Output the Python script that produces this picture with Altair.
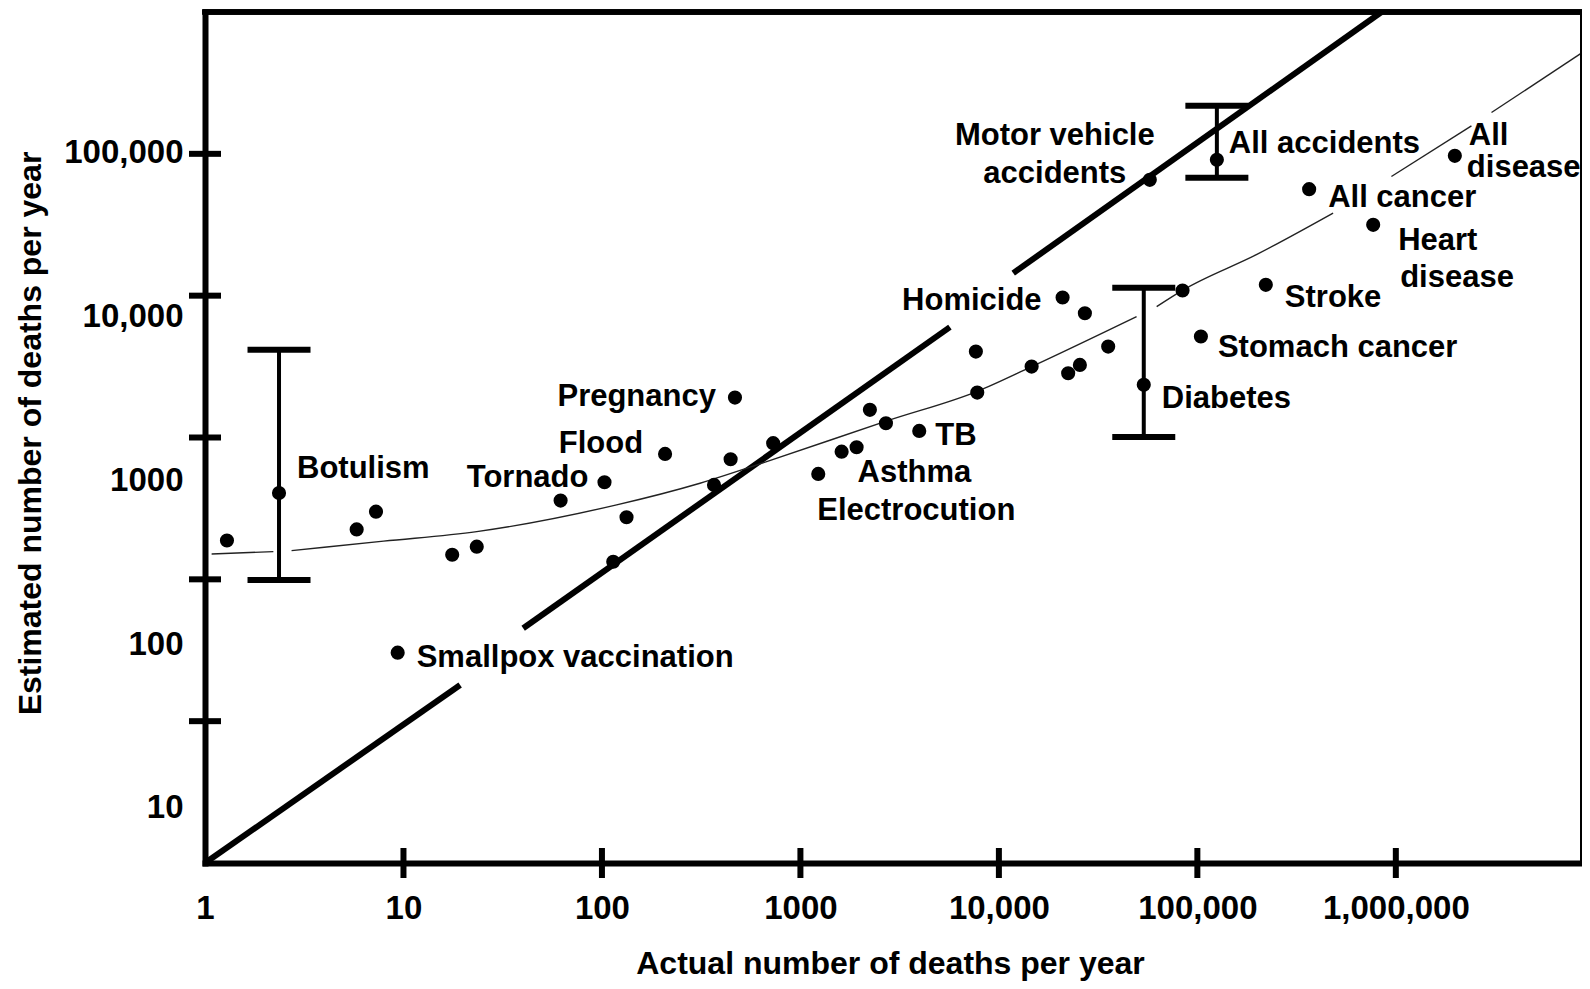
import altair as alt
import pandas as pd

# ---------------- data ----------------
actual = [1.29, 2.36, 5.81, 7.27, 17.6, 23.4, 9.35, 61.9, 103, 133, 114, 208,
          367, 445, 468, 729, 1230, 1613, 1919, 2239, 2697, 3969, 7657, 7780,
          14620, 20940, 27120, 22340, 25590, 35540, 53700, 84200, 104200,
          57600, 125400, 221300, 365800, 768900, 1983000]
estimated = [188, 406, 225, 300, 149, 170, 30.4, 359, 484, 274, 133, 766,
             463, 703, 1911, 912, 554, 795, 854, 1566, 1261, 1113, 4035, 2073,
             3163, 9700, 7520, 2840, 3250, 4377, 2350, 10870, 5150,
             65600, 90700, 11920, 56360, 31570, 96800]
hazard = ["", "Botulism", "", "", "", "", "Smallpox vaccination", "", "Tornado",
          "", "", "Flood", "", "", "Pregnancy", "", "Electrocution", "", "Asthma",
          "", "", "TB", "", "", "", "Homicide", "", "", "", "", "Diabetes", "",
          "Stomach cancer", "Motor vehicle accidents", "All accidents", "Stroke",
          "All cancer", "Heart disease", "All disease"]

err_hazard = ["Botulism", "Diabetes", "All accidents"]
err_x = [2.36, 53700, 125400]
err_low = [99, 1010, 67700]
err_high = [4150, 11350, 218000]

# identity line (drawn with gaps behind labels)
diag_x = [1, 19.3, 40.1, 5665, 11810, 847000]
diag_y = [1, 18.0, 45.2, 6000, 14420, 1000000]
diag_seg = [1, 1, 2, 2, 3, 3]

# fitted curve (with its gaps)
curve_x = [1.08, 2.21,
           2.73, 7.94, 23.4, 118.6, 312, 676, 2825, 7727, 14620, 49400,
           62370, 84900, 199500, 483000,
           950000, 2404000,
           3034000, 9120000]
curve_y = [151, 156.8,
           159.3, 185.8, 217, 335, 476, 676, 1331, 2109, 3163, 7123,
           8375, 10990, 19540, 38200,
           69200, 157500,
           195500, 541000]
curve_seg = [1, 1, 2, 2, 2, 2, 2, 2, 2, 2, 2, 2, 3, 3, 3, 3, 4, 4, 5, 5]

tick_values_x = [1, 10, 100, 1000, 10000, 100000, 1000000]
tick_values_y = [10, 100, 1000, 10000, 100000]
label_values_y = [10, 100, 1000, 10000, 100000]

# label lines: text, point index, layout offsets
ann = [
    ("Botulism", 1, 18, -15, "left"),
    ("Smallpox vaccination", 6, 19, 14, "left"),
    ("Tornado", 8, -16, 5, "right"),
    ("Flood", 11, -22, -1, "right"),
    ("Pregnancy", 14, -19, 8, "right"),
    ("Electrocution", 16, -1, 46, "left"),
    ("Asthma", 18, 1, 35, "left"),
    ("TB", 21, 16, 14, "left"),
    ("Homicide", 25, -21, 12, "right"),
    ("Diabetes", 30, 18, 23, "left"),
    ("Stomach cancer", 32, 17, 20, "left"),
    ("Motor vehicle", 33, -95, -35, "center"),
    ("accidents", 33, -95, 3, "center"),
    ("All accidents", 34, 12, -7, "left"),
    ("Stroke", 35, 19, 22, "left"),
    ("All cancer", 36, 19, 18, "left"),
    ("Heart", 37, 25, 25, "left"),
    ("disease", 37, 27, 62, "left"),
    ("All", 38, 14, -11, "left"),
    ("disease", 38, 12, 21, "left"),
]

# ---------------- layout ----------------
W, H = 1376, 851
FONT = "Liberation Sans"

xscale = alt.Scale(type="log", domain=[1, 8.57e6], nice=False)
yscale = alt.Scale(type="log", domain=[1, 1e6], nice=False)
ylabscale = alt.Scale(type="log", domain=[4.61, 7.26e5], nice=False)

fmt = "datum.value >= 10000 ? format(datum.value, ',') : format(datum.value, 'd')"

xaxis = alt.Axis(values=tick_values_x, labelExpr=fmt, labelFont=FONT,
                 labelFontSize=33, labelFontWeight="bold", labelColor="black",
                 labelPadding=29, labelFlush=False, labelOverlap=False,
                 labelBound=False, ticks=False, tickSize=0, grid=False,
                 domain=True, domainWidth=6, domainColor="black",
                 domainCap="square",
                 title="Actual number of deaths per year", titleFont=FONT,
                 titleFontSize=32, titleFontWeight="bold", titleColor="black",
                 titleX=685, titleY=110, titleAlign="center",
                 titleBaseline="alphabetic")
yaxis = alt.Axis(labels=False, ticks=False, tickSize=0, grid=False,
                 domain=True, domainWidth=6, domainColor="black",
                 domainCap="square",
                 title="Estimated number of deaths per year", titleFont=FONT,
                 titleFontSize=32, titleFontWeight="bold", titleColor="black",
                 titleAngle=270, titleX=-175, titleY=421, titleAlign="center",
                 titleBaseline="middle")
ylabaxis = alt.Axis(orient="left", values=label_values_y, labelExpr=fmt,
                    labelFont=FONT, labelFontSize=33, labelFontWeight="bold",
                    labelColor="black", labelPadding=22, labelFlush=False,
                    labelOverlap=False, labelBound=False, ticks=False,
                    tickSize=0, grid=False, domain=False, title=None)


def X():
    return alt.X("x:Q", scale=xscale, axis=xaxis)


def Y(field="y"):
    return alt.Y(f"{field}:Q", scale=yscale, axis=yaxis)


pts = pd.DataFrame({"x": actual, "y": estimated, "hazard": hazard})
diag = pd.DataFrame({"x": diag_x, "y": diag_y, "seg": diag_seg})
curve = pd.DataFrame({"x": curve_x, "y": curve_y, "seg": curve_seg})
err = pd.DataFrame({"x": err_x, "y": err_low, "y2": err_high, "hazard": err_hazard})
ytk = pd.DataFrame({"y": tick_values_y})
xtk = pd.DataFrame({"x": tick_values_x[1:]})

layers = []
layers.append(alt.Chart(diag).mark_line(color="black", strokeWidth=6, clip=True)
              .encode(x=X(), y=Y(), detail="seg:N"))
layers.append(alt.Chart(curve).mark_line(color="#222222", strokeWidth=1.4,
                                          interpolate="monotone", clip=True)
              .encode(x=X(), y=Y(), detail="seg:N"))
layers.append(alt.Chart(err).mark_rule(color="black", strokeWidth=4)
              .encode(x=X(), y=Y(), y2="y2:Q"))
layers.append(alt.Chart(err).mark_tick(color="black", orient="horizontal",
                                        size=63, thickness=6, opacity=1)
              .encode(x=X(), y=Y()))
layers.append(alt.Chart(err).mark_tick(color="black", orient="horizontal",
                                        size=63, thickness=6, opacity=1)
              .encode(x=X(), y=Y("y2")))
layers.append(alt.Chart(pts).mark_circle(color="black", size=200, opacity=1)
              .encode(x=X(), y=Y(), tooltip=["hazard:N", "x:Q", "y:Q"]))
# crossing tick marks on both axes
layers.append(alt.Chart(ytk).mark_tick(color="black", orient="horizontal",
                                        size=32, thickness=6, opacity=1)
              .encode(x=alt.value(0), y=Y()))
layers.append(alt.Chart(xtk).mark_tick(color="black", orient="vertical",
                                        size=30, thickness=6, opacity=1)
              .encode(x=X(), y=alt.value(H)))
# top and right frame
layers.append(alt.Chart(ytk).mark_rule(color="black", strokeWidth=5, strokeCap="square")
              .encode(x=alt.value(0), x2=alt.value(W), y=alt.value(0)))
layers.append(alt.Chart(ytk).mark_rule(color="black", strokeWidth=1.5)
              .encode(x=alt.value(W), y=alt.value(0), y2=alt.value(H)))

for text, i, dx, dy, align in ann:
    row = pd.DataFrame({"x": [actual[i]], "y": [estimated[i]], "t": [text]})
    layers.append(alt.Chart(row).mark_text(font=FONT, fontSize=31,
                                            fontWeight="bold", color="black",
                                            align=align, baseline="alphabetic",
                                            dx=dx, dy=dy)
                  .encode(x=X(), y=Y(), text="t:N"))

main = alt.layer(*layers)

lab = pd.DataFrame({"x": [1] * len(label_values_y), "ylab": label_values_y})
label_layer = alt.Chart(lab).mark_point(opacity=0).encode(
    x=X(), y=alt.Y("ylab:Q", scale=ylabscale, axis=ylabaxis))

chart = (alt.layer(main, label_layer)
         .resolve_scale(y="independent")
         .properties(width=W, height=H, background="white",
                     padding={"left": 197, "top": 4, "right": 1, "bottom": 118},
                     autosize=alt.AutoSizeParams(type="none"))
         .configure_view(stroke=None))

chart.save("out.html", embed_options={"renderer": "svg", "actions": False})
